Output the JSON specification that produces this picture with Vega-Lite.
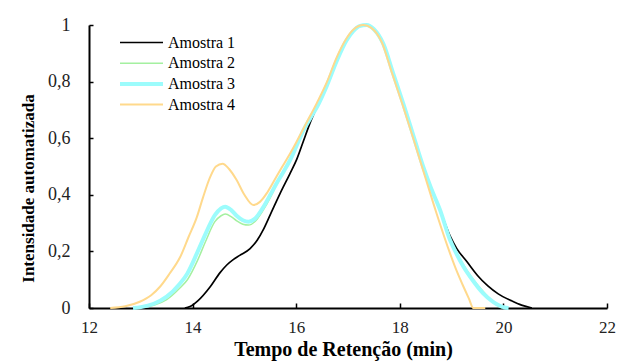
{
  "$schema": "https://vega.github.io/schema/vega-lite/v6.json",
  "width": 518,
  "height": 283,
  "autosize": {"type": "none"},
  "padding": {"left": 89, "top": 25, "right": 21, "bottom": 53},
  "background": "white",
  "config": {
    "view": {"stroke": null},
    "font": "Times New Roman, Liberation Serif, serif",
    "axis": {"labelFont": "Times New Roman, Liberation Serif, serif", "titleFont": "Times New Roman, Liberation Serif, serif"},
    "legend": {"labelFont": "Times New Roman, Liberation Serif, serif"}
  },
  "data": {
    "values": [
      {"amostra": "Amostra 1", "t": 13.85, "v": 0},
      {"amostra": "Amostra 1", "t": 13.95, "v": 0.005},
      {"amostra": "Amostra 1", "t": 14.1, "v": 0.025},
      {"amostra": "Amostra 1", "t": 14.34, "v": 0.075},
      {"amostra": "Amostra 1", "t": 14.53, "v": 0.125},
      {"amostra": "Amostra 1", "t": 14.66, "v": 0.152},
      {"amostra": "Amostra 1", "t": 14.79, "v": 0.172},
      {"amostra": "Amostra 1", "t": 14.91, "v": 0.186},
      {"amostra": "Amostra 1", "t": 15.11, "v": 0.21},
      {"amostra": "Amostra 1", "t": 15.25, "v": 0.24},
      {"amostra": "Amostra 1", "t": 15.36, "v": 0.275},
      {"amostra": "Amostra 1", "t": 15.5, "v": 0.33},
      {"amostra": "Amostra 1", "t": 15.69, "v": 0.405},
      {"amostra": "Amostra 1", "t": 15.88, "v": 0.475},
      {"amostra": "Amostra 1", "t": 16.01, "v": 0.525},
      {"amostra": "Amostra 1", "t": 16.14, "v": 0.59},
      {"amostra": "Amostra 1", "t": 16.27, "v": 0.655},
      {"amostra": "Amostra 1", "t": 16.4, "v": 0.71},
      {"amostra": "Amostra 1", "t": 16.59, "v": 0.785},
      {"amostra": "Amostra 1", "t": 16.78, "v": 0.872},
      {"amostra": "Amostra 1", "t": 16.97, "v": 0.945},
      {"amostra": "Amostra 1", "t": 17.1, "v": 0.978},
      {"amostra": "Amostra 1", "t": 17.22, "v": 0.996},
      {"amostra": "Amostra 1", "t": 17.36, "v": 1.0},
      {"amostra": "Amostra 1", "t": 17.5, "v": 0.985},
      {"amostra": "Amostra 1", "t": 17.68, "v": 0.934},
      {"amostra": "Amostra 1", "t": 17.87, "v": 0.83},
      {"amostra": "Amostra 1", "t": 18.07, "v": 0.72},
      {"amostra": "Amostra 1", "t": 18.26, "v": 0.61},
      {"amostra": "Amostra 1", "t": 18.45, "v": 0.5},
      {"amostra": "Amostra 1", "t": 18.6, "v": 0.425},
      {"amostra": "Amostra 1", "t": 18.78, "v": 0.345},
      {"amostra": "Amostra 1", "t": 18.97, "v": 0.255},
      {"amostra": "Amostra 1", "t": 19.1, "v": 0.21},
      {"amostra": "Amostra 1", "t": 19.29, "v": 0.165},
      {"amostra": "Amostra 1", "t": 19.5, "v": 0.115},
      {"amostra": "Amostra 1", "t": 19.7, "v": 0.078},
      {"amostra": "Amostra 1", "t": 19.9, "v": 0.05},
      {"amostra": "Amostra 1", "t": 20.15, "v": 0.026},
      {"amostra": "Amostra 1", "t": 20.35, "v": 0.01},
      {"amostra": "Amostra 1", "t": 20.55, "v": 0},

      {"amostra": "Amostra 2", "t": 12.9, "v": 0},
      {"amostra": "Amostra 2", "t": 13.0, "v": 0.002},
      {"amostra": "Amostra 2", "t": 13.25, "v": 0.01},
      {"amostra": "Amostra 2", "t": 13.5, "v": 0.03},
      {"amostra": "Amostra 2", "t": 13.75, "v": 0.07},
      {"amostra": "Amostra 2", "t": 13.9, "v": 0.1},
      {"amostra": "Amostra 2", "t": 14.1, "v": 0.17},
      {"amostra": "Amostra 2", "t": 14.25, "v": 0.235},
      {"amostra": "Amostra 2", "t": 14.43, "v": 0.305},
      {"amostra": "Amostra 2", "t": 14.55, "v": 0.326},
      {"amostra": "Amostra 2", "t": 14.63, "v": 0.332},
      {"amostra": "Amostra 2", "t": 14.75, "v": 0.322},
      {"amostra": "Amostra 2", "t": 14.85, "v": 0.308},
      {"amostra": "Amostra 2", "t": 14.97, "v": 0.296},
      {"amostra": "Amostra 2", "t": 15.08, "v": 0.293},
      {"amostra": "Amostra 2", "t": 15.2, "v": 0.305},
      {"amostra": "Amostra 2", "t": 15.36, "v": 0.345},
      {"amostra": "Amostra 2", "t": 15.5, "v": 0.39},
      {"amostra": "Amostra 2", "t": 15.62, "v": 0.435},
      {"amostra": "Amostra 2", "t": 15.75, "v": 0.478},
      {"amostra": "Amostra 2", "t": 15.88, "v": 0.522},
      {"amostra": "Amostra 2", "t": 16.0, "v": 0.57},
      {"amostra": "Amostra 2", "t": 16.14, "v": 0.628},
      {"amostra": "Amostra 2", "t": 16.27, "v": 0.67},
      {"amostra": "Amostra 2", "t": 16.4, "v": 0.71},
      {"amostra": "Amostra 2", "t": 16.59, "v": 0.785},
      {"amostra": "Amostra 2", "t": 16.78, "v": 0.872},
      {"amostra": "Amostra 2", "t": 16.97, "v": 0.945},
      {"amostra": "Amostra 2", "t": 17.1, "v": 0.978},
      {"amostra": "Amostra 2", "t": 17.22, "v": 0.996},
      {"amostra": "Amostra 2", "t": 17.36, "v": 1.0},
      {"amostra": "Amostra 2", "t": 17.5, "v": 0.985},
      {"amostra": "Amostra 2", "t": 17.68, "v": 0.934},
      {"amostra": "Amostra 2", "t": 17.87, "v": 0.83},
      {"amostra": "Amostra 2", "t": 18.07, "v": 0.72},
      {"amostra": "Amostra 2", "t": 18.26, "v": 0.61},
      {"amostra": "Amostra 2", "t": 18.45, "v": 0.5},
      {"amostra": "Amostra 2", "t": 18.6, "v": 0.425},
      {"amostra": "Amostra 2", "t": 18.78, "v": 0.345},
      {"amostra": "Amostra 2", "t": 18.97, "v": 0.245},
      {"amostra": "Amostra 2", "t": 19.1, "v": 0.195},
      {"amostra": "Amostra 2", "t": 19.23, "v": 0.152},
      {"amostra": "Amostra 2", "t": 19.4, "v": 0.105},
      {"amostra": "Amostra 2", "t": 19.61, "v": 0.058},
      {"amostra": "Amostra 2", "t": 19.8, "v": 0.022},
      {"amostra": "Amostra 2", "t": 19.9, "v": 0.008},
      {"amostra": "Amostra 2", "t": 19.97, "v": 0},

      {"amostra": "Amostra 3", "t": 12.85, "v": 0},
      {"amostra": "Amostra 3", "t": 13.0, "v": 0.003},
      {"amostra": "Amostra 3", "t": 13.25, "v": 0.015},
      {"amostra": "Amostra 3", "t": 13.5, "v": 0.04},
      {"amostra": "Amostra 3", "t": 13.75, "v": 0.085},
      {"amostra": "Amostra 3", "t": 13.9, "v": 0.122},
      {"amostra": "Amostra 3", "t": 14.1, "v": 0.2},
      {"amostra": "Amostra 3", "t": 14.25, "v": 0.262},
      {"amostra": "Amostra 3", "t": 14.43, "v": 0.328},
      {"amostra": "Amostra 3", "t": 14.55, "v": 0.352},
      {"amostra": "Amostra 3", "t": 14.63, "v": 0.358},
      {"amostra": "Amostra 3", "t": 14.75, "v": 0.345},
      {"amostra": "Amostra 3", "t": 14.85, "v": 0.326},
      {"amostra": "Amostra 3", "t": 14.97, "v": 0.31},
      {"amostra": "Amostra 3", "t": 15.08, "v": 0.305},
      {"amostra": "Amostra 3", "t": 15.2, "v": 0.315},
      {"amostra": "Amostra 3", "t": 15.36, "v": 0.355},
      {"amostra": "Amostra 3", "t": 15.5, "v": 0.4},
      {"amostra": "Amostra 3", "t": 15.62, "v": 0.44},
      {"amostra": "Amostra 3", "t": 15.75, "v": 0.48},
      {"amostra": "Amostra 3", "t": 15.88, "v": 0.522},
      {"amostra": "Amostra 3", "t": 16.0, "v": 0.57},
      {"amostra": "Amostra 3", "t": 16.14, "v": 0.628},
      {"amostra": "Amostra 3", "t": 16.27, "v": 0.67},
      {"amostra": "Amostra 3", "t": 16.4, "v": 0.71},
      {"amostra": "Amostra 3", "t": 16.59, "v": 0.785},
      {"amostra": "Amostra 3", "t": 16.78, "v": 0.872},
      {"amostra": "Amostra 3", "t": 16.97, "v": 0.945},
      {"amostra": "Amostra 3", "t": 17.1, "v": 0.978},
      {"amostra": "Amostra 3", "t": 17.22, "v": 0.996},
      {"amostra": "Amostra 3", "t": 17.36, "v": 1.0},
      {"amostra": "Amostra 3", "t": 17.5, "v": 0.985},
      {"amostra": "Amostra 3", "t": 17.68, "v": 0.934},
      {"amostra": "Amostra 3", "t": 17.87, "v": 0.83},
      {"amostra": "Amostra 3", "t": 18.07, "v": 0.72},
      {"amostra": "Amostra 3", "t": 18.26, "v": 0.61},
      {"amostra": "Amostra 3", "t": 18.45, "v": 0.5},
      {"amostra": "Amostra 3", "t": 18.6, "v": 0.425},
      {"amostra": "Amostra 3", "t": 18.78, "v": 0.345},
      {"amostra": "Amostra 3", "t": 18.97, "v": 0.24},
      {"amostra": "Amostra 3", "t": 19.1, "v": 0.19},
      {"amostra": "Amostra 3", "t": 19.23, "v": 0.146},
      {"amostra": "Amostra 3", "t": 19.4, "v": 0.1},
      {"amostra": "Amostra 3", "t": 19.61, "v": 0.052},
      {"amostra": "Amostra 3", "t": 19.8, "v": 0.022},
      {"amostra": "Amostra 3", "t": 19.93, "v": 0.008},
      {"amostra": "Amostra 3", "t": 20.02, "v": 0.002},
      {"amostra": "Amostra 3", "t": 20.1, "v": 0},

      {"amostra": "Amostra 4", "t": 12.41, "v": 0},
      {"amostra": "Amostra 4", "t": 12.7, "v": 0.006},
      {"amostra": "Amostra 4", "t": 12.98, "v": 0.022},
      {"amostra": "Amostra 4", "t": 13.2, "v": 0.045},
      {"amostra": "Amostra 4", "t": 13.37, "v": 0.075},
      {"amostra": "Amostra 4", "t": 13.55, "v": 0.12},
      {"amostra": "Amostra 4", "t": 13.76, "v": 0.18},
      {"amostra": "Amostra 4", "t": 13.92, "v": 0.25},
      {"amostra": "Amostra 4", "t": 14.08, "v": 0.32},
      {"amostra": "Amostra 4", "t": 14.2, "v": 0.39},
      {"amostra": "Amostra 4", "t": 14.34, "v": 0.463},
      {"amostra": "Amostra 4", "t": 14.45, "v": 0.5},
      {"amostra": "Amostra 4", "t": 14.58, "v": 0.51},
      {"amostra": "Amostra 4", "t": 14.7, "v": 0.492},
      {"amostra": "Amostra 4", "t": 14.85, "v": 0.452},
      {"amostra": "Amostra 4", "t": 15.0, "v": 0.4},
      {"amostra": "Amostra 4", "t": 15.17, "v": 0.364},
      {"amostra": "Amostra 4", "t": 15.3, "v": 0.375},
      {"amostra": "Amostra 4", "t": 15.43, "v": 0.405},
      {"amostra": "Amostra 4", "t": 15.56, "v": 0.445},
      {"amostra": "Amostra 4", "t": 15.69, "v": 0.487},
      {"amostra": "Amostra 4", "t": 15.88, "v": 0.545},
      {"amostra": "Amostra 4", "t": 16.0, "v": 0.585},
      {"amostra": "Amostra 4", "t": 16.2, "v": 0.655},
      {"amostra": "Amostra 4", "t": 16.4, "v": 0.725},
      {"amostra": "Amostra 4", "t": 16.59, "v": 0.797},
      {"amostra": "Amostra 4", "t": 16.78, "v": 0.885},
      {"amostra": "Amostra 4", "t": 16.97, "v": 0.952},
      {"amostra": "Amostra 4", "t": 17.1, "v": 0.983},
      {"amostra": "Amostra 4", "t": 17.3, "v": 1.0},
      {"amostra": "Amostra 4", "t": 17.45, "v": 0.99},
      {"amostra": "Amostra 4", "t": 17.65, "v": 0.94},
      {"amostra": "Amostra 4", "t": 17.85, "v": 0.83},
      {"amostra": "Amostra 4", "t": 18.05, "v": 0.72},
      {"amostra": "Amostra 4", "t": 18.25, "v": 0.605},
      {"amostra": "Amostra 4", "t": 18.45, "v": 0.487},
      {"amostra": "Amostra 4", "t": 18.71, "v": 0.334},
      {"amostra": "Amostra 4", "t": 18.97, "v": 0.193},
      {"amostra": "Amostra 4", "t": 19.1, "v": 0.13},
      {"amostra": "Amostra 4", "t": 19.23, "v": 0.075},
      {"amostra": "Amostra 4", "t": 19.33, "v": 0.035},
      {"amostra": "Amostra 4", "t": 19.42, "v": 0},
      {"amostra": "Amostra 4", "t": 19.65, "v": 0}
    ]
  },
  "mark": {"type": "line", "interpolate": "monotone"},
  "encoding": {
    "x": {
      "field": "t",
      "type": "quantitative",
      "scale": {"domain": [12, 22], "nice": false},
      "axis": {
        "values": [12, 14, 16, 18, 20, 22],
        "grid": false,
        "domainColor": "black",
        "domainWidth": 2,
        "tickColor": "black",
        "tickWidth": 1.5,
        "tickSize": -5,
        "labelFontSize": 17,
        "labelColor": "#222222",
        "labelPadding": 16,
        "labelFlush": false,
        "title": "Tempo de Retenção (min)",
        "titleFontSize": 20,
        "titleFontWeight": "bold",
        "titleColor": "black",
        "titleX": 254,
        "titleY": 47,
        "titleBaseline": "alphabetic"
      }
    },
    "y": {
      "field": "v",
      "type": "quantitative",
      "scale": {"domain": [0, 1], "nice": false},
      "axis": {
        "values": [0, 0.2, 0.4, 0.6, 0.8, 1],
        "labelExpr": "replace(toString(datum.value), '.', ',')",
        "grid": false,
        "domainColor": "black",
        "domainWidth": 2,
        "tickColor": "black",
        "tickWidth": 1.5,
        "tickSize": -4,
        "labelFontSize": 18,
        "labelColor": "#222222",
        "labelPadding": 23,
        "labelFlush": false,
        "title": "Intensidade automatizada",
        "titleFontSize": 17,
        "titleFontWeight": "bold",
        "titleColor": "black",
        "titleX": -52,
        "titleY": 163
      }
    },
    "color": {
      "field": "amostra",
      "type": "nominal",
      "scale": {
        "domain": ["Amostra 1", "Amostra 2", "Amostra 3", "Amostra 4"],
        "range": ["#000000", "#a4f0a0", "#9cfcfc", "#ffd98c"]
      },
      "legend": {
        "orient": "none",
        "legendX": 44.5,
        "legendY": 9.5,
        "title": null,
        "padding": 0,
        "symbolType": "M-2.15,0H2.15",
        "symbolSize": 400,
        "rowPadding": 4.7,
        "labelOffset": 18.5,
        "labelFontSize": 16,
        "labelColor": "black",
        "encode": {
          "symbols": {
            "update": {
              "strokeWidth": {"signal": "datum.value === 'Amostra 3' ? 4 : datum.value === 'Amostra 4' ? 2 : datum.value === 'Amostra 2' ? 1.5 : 1.7"}
            }
          }
        }
      }
    },
    "strokeWidth": {
      "condition": [
        {"test": "datum.amostra === 'Amostra 3'", "value": 4},
        {"test": "datum.amostra === 'Amostra 4'", "value": 2},
        {"test": "datum.amostra === 'Amostra 2'", "value": 1.5}
      ],
      "value": 1.7
    }
  }
}
